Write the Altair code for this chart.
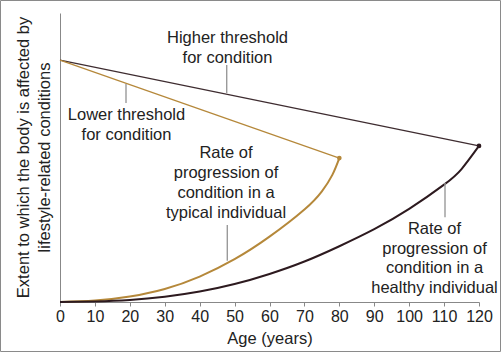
import altair as alt
import pandas as pd

# Threshold lines (age, extent)
high_age = [0, 120]
high_val = [83.7, 54.0]
low_age = [0, 80]
low_val = [83.7, 49.8]

# Progression curves
typ_age = [0, 10, 20, 30, 40, 50, 60, 70, 75, 78, 80]
typ_val = [0, 0.5, 1.9, 4.5, 8.8, 14.8, 22.6, 32.0, 38.3, 44.0, 49.8]
hea_age = [0, 10, 20, 30, 40, 50, 60, 70, 80, 90, 100, 110, 115, 120]
hea_val = [0, 0.2, 0.7, 1.8, 3.6, 6.2, 9.7, 14.0, 19.3, 25.2, 32.2, 40.6, 46.0, 54.0]

x_ticks = list(range(0, 121, 10))

GOLD = "#b5883a"
DARK = "#2d1a1f"
GREY = "#9a9a9a"
FONT = "Liberation Sans"

xs = alt.Scale(domain=[0, 120], nice=False, zero=False)
ys = alt.Scale(domain=[0, 100], nice=False, zero=False)

df_high = pd.DataFrame({"age": high_age, "val": high_val})
df_low = pd.DataFrame({"age": low_age, "val": low_val})
df_typ = pd.DataFrame({"age": typ_age, "val": typ_val})
df_hea = pd.DataFrame({"age": hea_age, "val": hea_val})

x_enc = alt.X("age:Q", scale=xs,
              axis=alt.Axis(values=x_ticks, title="Age (years)", grid=False,
                            domainColor="#888888", tickColor="#888888", tickSize=4,
                            labelFont=FONT, labelFontSize=16, labelColor="#222222",
                            labelPadding=2, labelFlush=False, labelOverlap=False,
                            titleFont=FONT, titleFontSize=16.5, titleFontWeight="normal",
                            titleColor="#222222", titleBaseline="alphabetic", titleY=41))
y_enc = alt.Y("val:Q", scale=ys,
              axis=alt.Axis(title=["Extent to which the body is affected by",
                                   "lifestyle-related conditions"],
                            grid=False, ticks=False, labels=False, domainColor="#888888",
                            titleFont=FONT, titleFontSize=16.5, titleFontWeight="normal",
                            titleColor="#222222", titleLineHeight=21,
                            titleAngle=270, titleAlign="center", titleBaseline="middle",
                            titleX=-37, titleY=144))

high = alt.Chart(df_high).mark_line(color="#3e2c30", strokeWidth=1.2).encode(x=x_enc, y=y_enc)
low = alt.Chart(df_low).mark_line(color=GOLD, strokeWidth=1.2).encode(x=x_enc, y=y_enc)
typ = alt.Chart(df_typ).mark_line(color=GOLD, strokeWidth=2, interpolate="natural").encode(x=x_enc, y=y_enc)
hea = alt.Chart(df_hea).mark_line(color=DARK, strokeWidth=2, interpolate="natural").encode(x=x_enc, y=y_enc)

dot_gold = alt.Chart(df_low.tail(1)).mark_circle(color=GOLD, size=22, opacity=1).encode(x=x_enc, y=y_enc)
dot_dark = alt.Chart(df_high.tail(1)).mark_circle(color=DARK, size=22, opacity=1).encode(x=x_enc, y=y_enc)


def label(txt, px, py, lh):
    return alt.Chart(alt.Data(values=[{}])).mark_text(
        font=FONT, fontSize=16.5, color="#222222", align="center",
        baseline="alphabetic", lineBreak="\n", lineHeight=lh
    ).encode(x=alt.value(px), y=alt.value(py), text=alt.value(txt))


def leader(px, py1, py2):
    return alt.Chart(alt.Data(values=[{}])).mark_rule(color=GREY, strokeWidth=1.4).encode(
        x=alt.value(px), y=alt.value(py1), y2=alt.value(py2))


texts = [
    label("Higher threshold\nfor condition", 167.5, 30, 20),
    label("Lower threshold\nfor condition", 66.5, 107, 19.5),
    label("Rate of\nprogression of\ncondition in a\ntypical individual", 166, 145.3, 20),
    label("Rate of\nprogression of\ncondition in a\nhealthy individual", 374.5, 221, 19.5),
]
leaders = [
    leader(166.7, 52, 80),
    leader(66, 71, 90),
    leader(167.3, 212, 247.7),
    leader(385, 170, 204.3),
]

border = alt.Chart(alt.Data(values=[{}])).mark_rect(
    fill=None, stroke="#8a8a8a", strokeWidth=1
).encode(x=alt.value(-59.5), x2=alt.value(440.5), y=alt.value(-12.5), y2=alt.value(338.5))

chart = alt.layer(high, low, typ, hea, dot_gold, dot_dark, *leaders, *texts, border).properties(
    width=419, height=289,
    padding={"left": 60, "top": 13, "right": 22, "bottom": 50},
    autosize=alt.AutoSizeParams(type="none"),
    background="white",
).configure_view(stroke=None).configure_axis(labelOverlap=False)

chart.save("out.html", embed_options={"renderer": "svg", "actions": False})
